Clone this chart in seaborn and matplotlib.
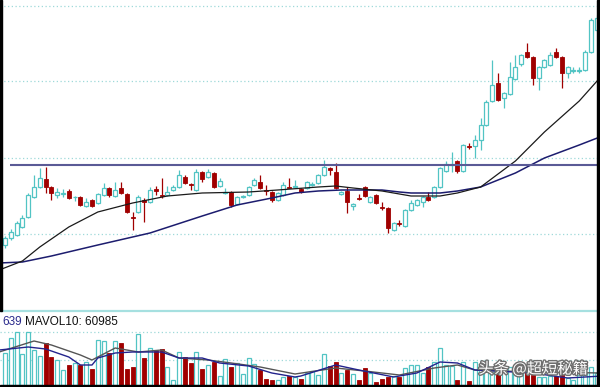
import numpy as np
import pandas as pd
import matplotlib.pyplot as plt
import matplotlib.patheffects as pe
from matplotlib.patches import Rectangle
import seaborn as sns

sns.set_style("white")
plt.rcParams['font.family'] = ['Liberation Sans', 'DejaVu Sans']

# Daily candles (price units)
OPEN = [6.6, 7.3, 7.6, 8.4, 9.4, 11.4, 12.4, 13.2, 12.4, 11.6,
        11.7, 12.0, 11.4, 11.4, 10.5, 11.1, 10.8, 11.6, 12.3, 11.5,
        12.3, 11.7, 9.4, 9.9, 11.1, 10.9, 12.2, 11.6, 11.6, 12.1,
        12.4, 13.4, 12.7, 12.1, 13.9, 13.4, 13.8, 12.5, 11.8, 11.9,
        10.7, 11.4, 11.6, 12.6, 12.9, 12.1, 11.9, 11.1, 11.6, 12.4,
        12.45, 12.2, 12.3, 12.65, 12.8, 13.6, 14.3, 13.9, 11.7, 12.0,
        10.5, 11.3, 12.4, 10.9, 11.6, 10.4, 10.3, 8.1, 8.8, 8.5,
        10.1, 10.6, 10.9, 11.4, 11.4, 12.4, 14.0, 14.6, 15.0, 14.0,
        16.5, 16.5, 17.1, 18.6, 21.0, 22.8, 21.3, 21.7, 23.2, 24.7,
        25.9, 25.4, 23.3, 24.4, 24.6, 25.9, 25.4, 23.8, 24.05, 24.05,
        24.1, 25.9, 28.1]
HIGH = [7.5, 8.2, 9.0, 9.6, 11.8, 13.6, 14.3, 14.4, 12.5, 12.3,
        12.2, 12.2, 11.5, 11.5, 11.3, 11.2, 11.8, 12.8, 12.4, 12.9,
        12.9, 11.8, 9.9, 11.6, 11.3, 12.4, 12.5, 13.3, 12.5, 12.6,
        14.1, 13.6, 12.8, 14.2, 14.0, 14.2, 13.9, 13.3, 12.3, 12.0,
        11.5, 11.6, 12.5, 13.3, 13.6, 12.6, 12.0, 11.9, 12.9, 13.3,
        13.1, 12.3, 13.0, 12.9, 13.7, 15.1, 14.4, 14.8, 12.0, 12.4,
        10.8, 11.7, 12.5, 11.5, 11.7, 10.9, 10.4, 8.9, 9.1, 10.2,
        11.1, 11.2, 11.5, 11.9, 12.5, 14.4, 15.0, 15.9, 15.1, 16.7,
        16.8, 17.6, 19.3, 21.1, 25.1, 23.8, 21.9, 24.9, 25.6, 25.7,
        26.8, 25.5, 24.5, 25.2, 25.9, 26.3, 25.5, 24.5, 24.4, 24.4,
        26.1, 29.3, 29.6]
LOW = [6.3, 7.1, 7.5, 8.3, 9.3, 11.3, 12.3, 11.8, 11.1, 11.3,
       11.4, 11.2, 11.0, 10.5, 10.4, 10.4, 10.7, 11.5, 11.4, 11.4,
       11.7, 9.8, 8.1, 9.8, 8.9, 10.8, 11.6, 11.3, 11.5, 12.0,
       12.3, 12.7, 12.1, 12.0, 12.9, 13.3, 12.3, 12.4, 11.7, 10.4,
       10.6, 11.3, 11.5, 12.5, 12.2, 11.6, 10.9, 11.0, 11.5, 12.3,
       12.4, 11.8, 12.2, 12.5, 12.7, 13.5, 13.6, 12.2, 11.6, 9.8,
       10.1, 11.1, 11.4, 10.8, 10.7, 10.1, 7.8, 8.0, 8.5, 8.4,
       10.0, 10.5, 10.4, 11.0, 11.3, 12.3, 13.9, 13.9, 13.8, 13.9,
       16.2, 15.3, 16.1, 18.5, 20.9, 21.0, 20.3, 21.6, 23.1, 24.5,
       25.3, 22.6, 22.1, 24.3, 24.5, 25.3, 22.3, 23.3, 23.8, 23.8,
       24.0, 25.8, 28.0]
CLOSE = [7.3, 7.9, 8.8, 9.3, 11.6, 12.4, 13.3, 12.4, 11.8, 11.9,
         11.8, 11.3, 11.45, 10.6, 10.9, 10.5, 11.7, 12.3, 11.6, 12.1,
         11.8, 9.9, 9.3, 11.4, 10.9, 12.1, 12.0, 11.55, 11.9, 12.4,
         13.6, 12.8, 12.65, 13.9, 13.2, 13.9, 12.4, 13.0, 11.9, 10.6,
         11.4, 11.5, 12.4, 13.1, 12.3, 12.05, 11.1, 11.8, 12.6, 12.35,
         12.5, 11.9, 12.9, 12.7, 13.6, 14.4, 14.1, 12.3, 11.9, 10.9,
         10.7, 11.25, 11.5, 11.4, 10.8, 10.3, 8.3, 8.8, 8.75, 10.1,
         10.8, 11.1, 11.4, 11.1, 12.4, 14.3, 14.7, 14.7, 14.0, 16.6,
         16.45, 17.1, 18.6, 20.9, 22.6, 21.1, 21.8, 23.4, 24.4, 25.6,
         25.4, 23.3, 24.4, 25.1, 25.6, 25.4, 23.8, 24.4, 24.1, 24.1,
         25.9, 29.1, 29.3]
VOLUME = [160000, 235000, 265000, 155000, 265000, 175000, 145000, 210000, 140000, 125000,
          75000, 100000, 110000, 100000, 115000, 80000, 225000, 220000, 160000, 220000,
          210000, 80000, 90000, 255000, 135000, 185000, 170000, 180000, 90000, 25000,
          165000, 140000, 110000, 165000, 80000, 100000, 115000, 45000, 130000, 90000,
          110000, 55000, 135000, 105000, 75000, 30000, 25000, 25000, 40000, 45000,
          40000, 30000, 60000, 70000, 50000, 155000, 95000, 115000, 60000, 75000,
          55000, 25000, 85000, 60000, 15000, 30000, 40000, 45000, 40000, 85000,
          100000, 100000, 60000, 90000, 115000, 185000, 100000, 95000, 25000, 115000,
          20000, 115000, 90000, 100000, 65000, 65000, 75000, 90000, 60000, 75000,
          60000, 50000, 40000, 40000, 45000, 45000, 50000, 35000, 25000, 50000,
          60000, 90000, 60000]

# Moving averages (candle index, value)
MA_SHORT_IDX = [-1, 3, 6, 11, 16, 22, 28, 34, 42, 47, 54, 57, 60, 65, 68, 70, 75, 78, 82, 88, 93, 99, 103]
MA_SHORT = [4.1, 5.0, 6.4, 8.4, 9.9, 10.8, 11.5, 11.8, 11.9, 12.1, 12.4, 12.5, 12.3, 12.0, 11.7, 11.5,
            11.5, 11.8, 12.4, 15.0, 17.9, 21.0, 23.6]
MA_LONG_IDX = [-1, 3, 8, 16, 25, 34, 40, 46, 50, 54, 58, 65, 68, 70, 75, 78, 82, 88, 93, 99, 103]
MA_LONG = [4.8, 4.9, 5.5, 6.6, 7.8, 9.5, 10.6, 11.3, 11.8, 12.0, 12.1, 12.1, 11.9, 11.8, 11.8, 12.0,
           12.4, 13.8, 15.3, 16.6, 17.5]
RESISTANCE = 14.6

VOL_MA5_IDX = [-1, 4, 7, 11, 13, 15, 16, 19, 22, 27, 30, 34, 37, 42, 46, 50, 51, 57, 61, 67, 71, 75,
               78, 81, 91, 97, 103]
VOL_MA5 = [175000, 190000, 180000, 140000, 100000, 100000, 135000, 160000, 165000, 165000, 135000,
           135000, 110000, 95000, 60000, 40000, 45000, 100000, 75000, 40000, 60000, 115000, 110000,
           75000, 60000, 35000, 45000]
VOL_MA10_IDX = [-1, 5, 8, 13, 15, 19, 23, 27, 30, 35, 39, 44, 50, 57, 62, 68, 74, 78, 81, 91, 103]
VOL_MA10 = [165000, 220000, 200000, 150000, 125000, 185000, 165000, 175000, 135000, 125000, 110000,
            90000, 55000, 85000, 70000, 50000, 85000, 100000, 75000, 65000, 60000]

LABEL_MA5 = "639"
LABEL_MA10 = "MAVOL10: 60985"
WATERMARK = "头条 @超短秘籍"

UP_COLOR = "#52c4c4"
DOWN_COLOR = "#a00000"
GRID_COLOR = "#9fd9d9"

df = pd.DataFrame({"open": OPEN, "high": HIGH, "low": LOW, "close": CLOSE, "volume": VOLUME})
df["idx"] = np.arange(len(df))
df["up"] = df["close"] >= df["open"]
up = df[df["up"]]
dn = df[~df["up"]]

fig = plt.figure(figsize=(6, 3.87), dpi=100)
ax = fig.add_axes([0, 76 / 387, 1, 311 / 387])
axv = fig.add_axes([0, 2 / 387, 1, 74 / 387])
xlim = (-0.862, 102.58)

# ---- price panel ----
for gy in [30.55, 23.0, 15.35, 7.7]:
    ax.axhline(gy, color=GRID_COLOR, lw=0.9, ls=(0, (1, 2)), zorder=1)

ax.vlines(up["idx"], up["low"], up["high"], color=UP_COLOR, lw=0.9, zorder=2)
ax.vlines(dn["idx"], dn["low"], dn["high"], color=DOWN_COLOR, lw=0.9, zorder=2)
ax.bar(up["idx"], np.maximum(up["close"] - up["open"], 0.05), bottom=up["open"], width=0.68,
       facecolor="white", edgecolor=UP_COLOR, lw=0.9, zorder=3)
ax.bar(dn["idx"], np.maximum(dn["open"] - dn["close"], 0.05), bottom=dn["close"], width=0.68,
       facecolor=DOWN_COLOR, edgecolor=DOWN_COLOR, lw=0.6, zorder=3)

sns.lineplot(x=MA_LONG_IDX, y=MA_LONG, ax=ax, color="#1c1c6e", lw=1.1, zorder=4)
sns.lineplot(x=MA_SHORT_IDX, y=MA_SHORT, ax=ax, color="#1a1a1a", lw=0.9, zorder=4)
ax.hlines(RESISTANCE, 0.86, xlim[1], color="#5a5a96", lw=1.5, zorder=5)

ax.set_xlim(*xlim)
ax.set_ylim(0, 31.1)
ax.axis("off")

# ---- volume panel ----
axv.axhline(265000, color=GRID_COLOR, lw=0.9, ls=(0, (1, 2)), zorder=1)
axv.axhline(125000, color=GRID_COLOR, lw=0.9, ls=(0, (1, 2)), zorder=1)
axv.bar(up["idx"], up["volume"], width=0.68, facecolor="white", edgecolor=UP_COLOR, lw=0.9, zorder=2)
axv.bar(dn["idx"], dn["volume"], width=0.68, facecolor=DOWN_COLOR, edgecolor=DOWN_COLOR, lw=0.6, zorder=2)
sns.lineplot(x=VOL_MA10_IDX, y=VOL_MA10, ax=axv, color="#555555", lw=1.0, zorder=3)
sns.lineplot(x=VOL_MA5_IDX, y=VOL_MA5, ax=axv, color="#23238c", lw=1.0, zorder=3)
axv.set_xlim(*xlim)
axv.set_ylim(0, 370000)
axv.set_xticks([])
axv.set_yticks([])
axv.set_xlabel("")
axv.set_ylabel("")
for side in ["left", "right", "bottom"]:
    axv.spines[side].set_visible(False)
axv.spines["top"].set_color("#a6e0e0")
axv.spines["top"].set_linewidth(1.6)

fig.text(2 / 600, 1 - 322 / 387, LABEL_MA5, color="#2a2a8c", fontsize=8.5, va="center", ha="left")
fig.text(25 / 600, 1 - 322 / 387, LABEL_MA10, color="#111111", fontsize=8.5, va="center", ha="left")
fig.text(533 / 600, 1 - 369 / 387, WATERMARK, color="white", fontsize=11, va="center", ha="center",
         family=["Noto Sans CJK SC", "DejaVu Sans"],
         path_effects=[pe.withStroke(linewidth=2, foreground="#6e6e6e")], zorder=10)

# black frame pieces of the screenshot
fig.add_artist(Rectangle((0, 76 / 387), 2 / 600, 311 / 387, transform=fig.transFigure, color="black"))
fig.add_artist(Rectangle((597 / 600, 0), 3 / 600, 1, transform=fig.transFigure, color="black"))
fig.add_artist(Rectangle((0, 0), 1, 2 / 387, transform=fig.transFigure, color="black"))

fig.savefig("out.png", dpi=100)
